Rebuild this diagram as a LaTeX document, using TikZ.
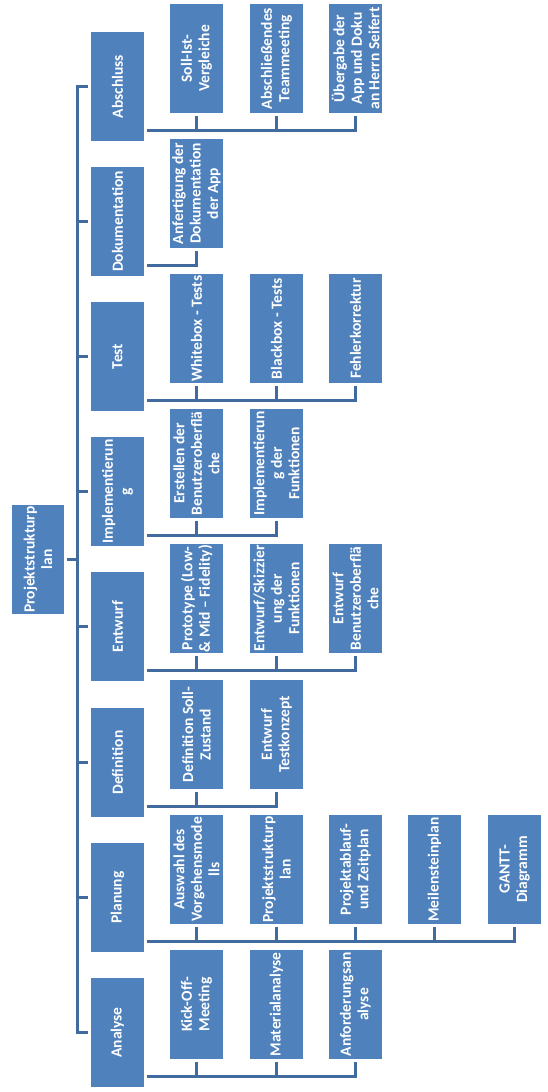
\documentclass[tikz,border=0pt]{standalone}
\usepackage{fontspec}
\setmainfont{Carlito}
\definecolor{boxblue}{HTML}{4F81BD}
\definecolor{lineblue}{HTML}{416A9F}
\begin{document}
\begin{tikzpicture}[x=1pt,y=-1pt,
  box/.style={fill=boxblue, text=white, font=\bfseries\fontsize{15.5}{17.5}\selectfont,
    align=center, rotate=90, minimum width=109pt, minimum height=53pt, inner sep=0pt},
  ln/.style={draw=lineblue, line width=3pt, line join=miter}]
\useasboundingbox (0,0) rectangle (547,1092);
% root
\node[box, minimum height=52pt] (root) at (38,559.5) {Projektstrukturp\\lan};
% phases
\node[box] (p1) at (117.5,86.5) {Abschluss};
\node[box] (p2) at (117.5,221.5) {Dokumentation};
\node[box] (p3) at (117.5,356.5) {Test};
\node[box] (p4) at (117.5,491.5) {Implementierun\\g};
\node[box] (p5) at (117.5,626.5) {Entwurf};
\node[box] (p6) at (117.5,762.5) {Definition};
\node[box] (p7) at (117.5,897.5) {Planung};
\node[box] (p8) at (117.5,1032.5) {Analyse};
% spine
\coordinate (sp) at (77.5,0);
\draw[ln] ([xshift=-3pt]p1.north) -- (sp |- p1) -- (sp |- p8) -- ([xshift=-3pt]p8.north);
\foreach \p in {p2,p3,p4,p5,p6,p7}{\draw[ln] (sp |- \p) -- ([xshift=-3pt]\p.north);}
\draw[ln] ([xshift=3pt]root.south) -- (sp |- root);
% Abschluss
\node[box] (c11) at (196.5,58.5) {Soll-Ist-\\Vergleiche};
\node[box] (c12) at (276.5,58.5) {Abschließendes\\Teammeeting};
\node[box] (c13) at (355.5,58.5) {Übergabe der\\App und Doku\\an Herrn Seifert};
\coordinate (b1) at (147,130.5);
\draw[ln] ([yshift=-3pt]c13.west) -- (c13 |- b1) -- (b1);
\foreach \c in {c11,c12}{\draw[ln] ([yshift=-3pt]\c.west) -- (\c |- b1);}
% Dokumentation
\node[box] (c21) at (196.5,193.5) {Anfertigung der\\Dokumentation\\der App};
\coordinate (b2) at (147,265.5);
\draw[ln] ([yshift=-3pt]c21.west) -- (c21 |- b2) -- (b2);
% Test
\node[box] (c31) at (196.5,328.5) {Whitebox - Tests};
\node[box] (c32) at (276.5,328.5) {Blackbox - Tests};
\node[box] (c33) at (355.5,328.5) {Fehlerkorrektur};
\coordinate (b3) at (147,400.5);
\draw[ln] ([yshift=-3pt]c33.west) -- (c33 |- b3) -- (b3);
\foreach \c in {c31,c32}{\draw[ln] ([yshift=-3pt]\c.west) -- (\c |- b3);}
% Implementierung
\node[box] (c41) at (196.5,463.5) {Erstellen der\\Benutzeroberflä\\che};
\node[box] (c42) at (276.5,463.5) {Implementierun\\g der\\Funktionen};
\coordinate (b4) at (147,535.5);
\draw[ln] ([yshift=-3pt]c42.west) -- (c42 |- b4) -- (b4);
\draw[ln] ([yshift=-3pt]c41.west) -- (c41 |- b4);
% Entwurf
\node[box] (c51) at (196.5,598.5) {Prototype (Low-\\\& Mid – Fidelity)};
\node[box] (c52) at (276.5,598.5) {Entwurf/Skizzier\\ung der\\Funktionen};
\node[box] (c53) at (355.5,598.5) {Entwurf\\Benutzeroberflä\\che};
\coordinate (b5) at (147,670.5);
\draw[ln] ([yshift=-3pt]c53.west) -- (c53 |- b5) -- (b5);
\foreach \c in {c51,c52}{\draw[ln] ([yshift=-3pt]\c.west) -- (\c |- b5);}
% Definition
\node[box] (c61) at (196.5,734.5) {Definition Soll-\\Zustand};
\node[box] (c62) at (276.5,734.5) {Entwurf\\Testkonzept};
\coordinate (b6) at (147,806.5);
\draw[ln] ([yshift=-3pt]c62.west) -- (c62 |- b6) -- (b6);
\draw[ln] ([yshift=-3pt]c61.west) -- (c61 |- b6);
% Planung
\node[box] (c71) at (196.5,869.5) {Auswahl des\\Vorgehensmode\\lls};
\node[box] (c72) at (276.5,869.5) {Projektstrukturp\\lan};
\node[box] (c73) at (355.5,869.5) {Projektablauf-\\und Zeitplan};
\node[box] (c74) at (434.5,869.5) {Meilensteinplan};
\node[box] (c75) at (514.5,869.5) {GANTT-\\Diagramm};
\coordinate (b7) at (147,941.5);
\draw[ln] ([yshift=-3pt]c75.west) -- (c75 |- b7) -- (b7);
\foreach \c in {c71,c72,c73,c74}{\draw[ln] ([yshift=-3pt]\c.west) -- (\c |- b7);}
% Analyse
\node[box] (c81) at (196.5,1004.5) {Kick-Off-\\Meeting};
\node[box] (c82) at (276.5,1004.5) {Materialanalyse};
\node[box] (c83) at (355.5,1004.5) {Anforderungsan\\alyse};
\coordinate (b8) at (147,1076.5);
\draw[ln] ([yshift=-3pt]c83.west) -- (c83 |- b8) -- (b8);
\foreach \c in {c81,c82}{\draw[ln] ([yshift=-3pt]\c.west) -- (\c |- b8);}
\end{tikzpicture}
\end{document}
